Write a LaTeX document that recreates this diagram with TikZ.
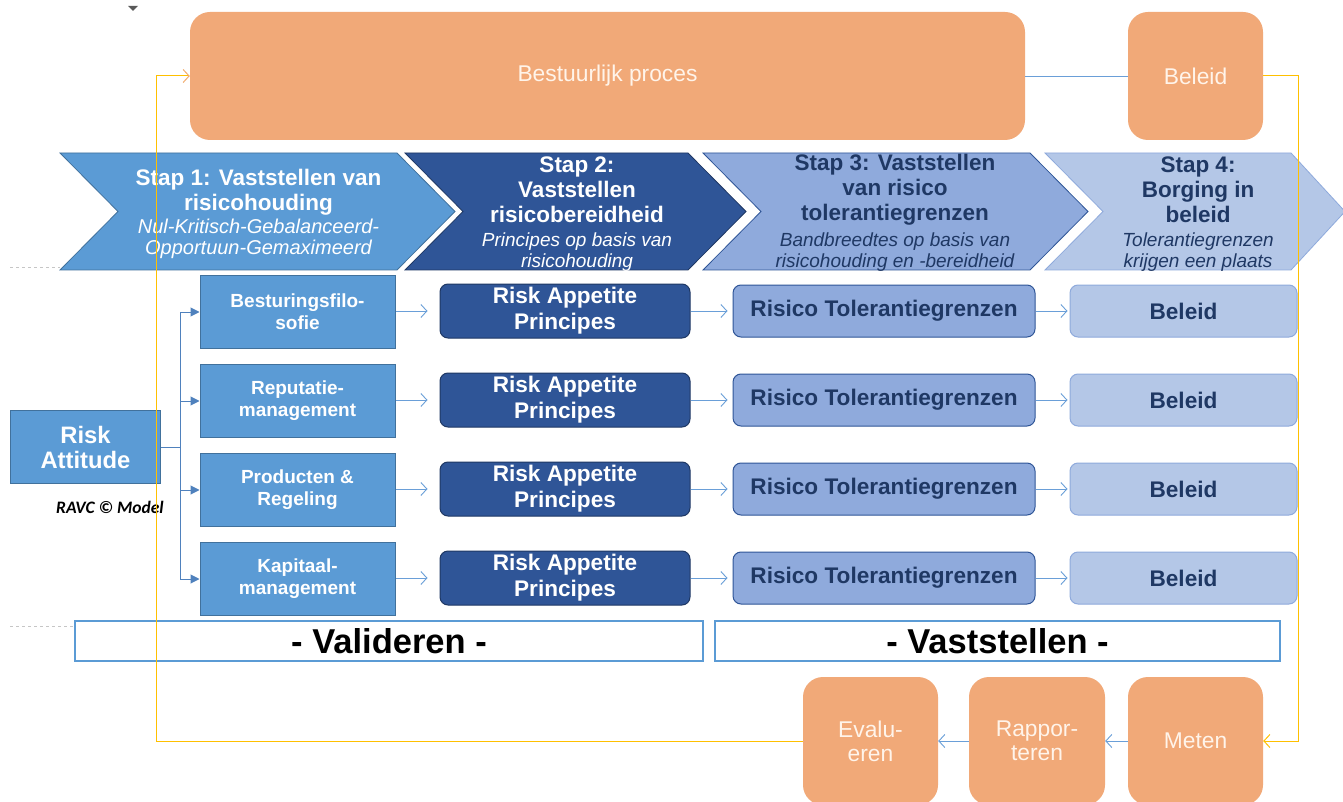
\documentclass[tikz,border=0pt]{standalone}
\usepackage{fontspec}
\setmainfont{Liberation Sans}
\newfontfamily\calib{Carlito}
\usetikzlibrary{arrows.meta,calc}
\definecolor{org}{HTML}{F1A978}
\definecolor{bmid}{HTML}{5B9BD5}
\definecolor{bmidd}{HTML}{41719C}
\definecolor{bdark}{HTML}{2F5597}
\definecolor{bnavy}{HTML}{1F3864}
\definecolor{blite}{HTML}{8FAADC}
\definecolor{bpale}{HTML}{B4C7E7}
\definecolor{yel}{HTML}{FFC000}
\definecolor{arr}{HTML}{6A9FD8}
\definecolor{forkc}{HTML}{4F81BD}
\definecolor{otext}{HTML}{FFF4EA}
\tikzset{
  orangebox/.style={rectangle, rounded corners=20pt, fill=org, text=otext, align=center, inner sep=0pt, font=\fontsize{22.8}{24}\selectfont},
  leftbox/.style={rectangle, fill=bmid, draw=bmidd, line width=1pt, text=white, align=center, inner sep=0pt, minimum width=195pt, minimum height=73pt, font=\bfseries\fontsize{19}{22}\selectfont},
  rapbox/.style={rectangle, rounded corners=8pt, fill=bdark, draw=bnavy, line width=1pt, text=white, align=center, inner sep=0pt, minimum width=250pt, minimum height=54pt, font=\bfseries\fontsize{22.6}{26}\selectfont},
  rtbox/.style={rectangle, rounded corners=8pt, fill=blite, draw=bdark, line width=1pt, text=bnavy, align=center, inner sep=0pt, minimum width=302pt, minimum height=52pt, font=\bfseries\fontsize{22.6}{26}\selectfont},
  belbox/.style={rectangle, rounded corners=8pt, fill=bpale, draw=blite, line width=1pt, text=bnavy, align=center, inner sep=0pt, minimum width=227pt, minimum height=52pt, font=\bfseries\fontsize{22.6}{26}\selectfont},
  phasebox/.style={rectangle, draw=bmid, line width=2pt, fill=white, text=black, inner sep=0pt, minimum height=40pt, font=\bfseries\fontsize{34.5}{36}\selectfont},
  chtitle/.style={align=center, inner sep=0pt, font=\bfseries\fontsize{22.5}{25}\selectfont},
  chsub/.style={align=center, inner sep=0pt, font=\itshape\fontsize{19}{21}\selectfont},
  flow/.style={draw=arr, line width=0.9pt, -{Straight Barb[length=6pt,width=13pt]}},
  fork/.style={draw=forkc, line width=1pt, -{Triangle[length=9pt,width=9pt]}},
  yline/.style={draw=yel, line width=1pt, -{Straight Barb[length=6pt,width=13pt]}},
}
\begin{document}
\begin{tikzpicture}[x=1pt,y=-1pt]
\useasboundingbox (0,0) rectangle (1343,802);
\fill[white] (0,0) rectangle (1343,802);
\path[clip] (0,0) rectangle (1343,802);

% small artefacts
\fill[gray!70!black] (128,6) -- (138,6) -- (133,11) -- cycle;
\draw[gray!45, dashed, line width=0.5pt] (10,267) -- (60,267);
\draw[gray!45, dashed, line width=0.5pt] (10,626) -- (75,626);

% top process
\node[orangebox, minimum width=835pt, minimum height=128pt] (bp) at (607.5,76) {Bestuurlijk proces};
\node[orangebox, minimum width=135pt, minimum height=128pt] (bt) at (1195.5,76) {Beleid};
\draw[draw=arr, line width=0.9pt] (bp.east) -- (bt.west);

% chevrons
\filldraw[fill=bmid, draw=bmidd, line width=0.8pt] (60,153) -- (397,153) -- (455,211.5) -- (397,270) -- (60,270) -- (118,211.5) -- cycle;
\filldraw[fill=bdark, draw=bnavy, line width=0.8pt] (405,153) -- (688,153) -- (746,211.5) -- (688,270) -- (405,270) -- (463,211.5) -- cycle;
\filldraw[fill=blite, draw=bdark, line width=0.8pt] (703,153) -- (1030,153) -- (1088,211.5) -- (1030,270) -- (703,270) -- (761,211.5) -- cycle;
\filldraw[fill=bpale, draw=blite, line width=0.8pt] (1045,153) -- (1291,153) -- (1345,211.5) -- (1291,270) -- (1045,270) -- (1103,211.5) -- cycle;

\node[chtitle, text=white] (c1t) at (258.5,192) {Stap 1: Vaststellen van\\risicohouding};
\node[chsub, text=white, font=\itshape\fontsize{20}{21}\selectfont] (c1s) at (258.5,239) {Nul-Kritisch-Gebalanceerd-\\Opportuun-Gemaximeerd};
\node[chtitle, text=white] (c2t) at (577,190) {Stap 2:\\Vaststellen\\risicobereidheid};
\node[chsub, text=white] (c2s) at (577,252) {Principes op basis van\\risicohouding};
\node[chtitle, text=bnavy] (c3t) at (895,190) {Stap 3: Vaststellen\\van risico\\tolerantiegrenzen};
\node[chsub, text=bnavy] (c3s) at (895,252) {Bandbreedtes op basis van\\risicohouding en -bereidheid};
\node[chtitle, text=bnavy] (c4t) at (1198,190) {Stap 4:\\Borging in\\beleid};
\node[chsub, text=bnavy] (c4s) at (1198,252) {Tolerantiegrenzen\\krijgen een plaats};

% left column
\node[leftbox, minimum width=150pt, minimum height=73pt, font=\bfseries\fontsize{23.8}{25}\selectfont] (ra) at (85.5,447) {Risk\\Attitude};
\node[font=\calib\bfseries\itshape\fontsize{17.5}{18}\selectfont, text=black, inner sep=0pt] (ravc) at (110,507) {RAVC © Model};

\node[leftbox] (b1) at (297.5,312) {Besturingsfilo-\\sofie};
\node[leftbox] (b2) at (297.5,401) {Reputatie-\\management};
\node[leftbox] (b3) at (297.5,490) {Producten \&\\Regeling};
\node[leftbox] (b4) at (297.5,579) {Kapitaal-\\management};

\coordinate (fj) at (180,447);
\draw[draw=forkc, line width=1pt] (ra.east) -- (fj);
\foreach \i in {1,...,4} {\draw[fork] (fj) |- (b\i.west);}

% rows
\foreach \i/\y in {1/311,2/400,3/489,4/578} {
  \node[rapbox] (p\i) at (565,\y) {Risk Appetite\\Principes};
  \node[rtbox] (t\i) at (884,\y) {Risico Tolerantiegrenzen};
  \node[belbox] (l\i) at (1183.5,\y) {Beleid};
  \draw[flow, shorten >=12pt] (b\i.east |- p\i.west) -- (p\i.west);
  \draw[flow, shorten >=5pt] (p\i.east) -- (t\i.west);
  \draw[flow, shorten >=2pt] (t\i.east) -- (l\i.west);
}

% phases
\node[phasebox, minimum width=628pt] (val) at (389,641) {- Valideren -};
\node[phasebox, minimum width=565pt] (vst) at (997.5,641) {- Vaststellen -};

% bottom cycle
\node[orangebox, minimum width=135pt, minimum height=128pt] (ev) at (870.5,741) {Evalu-\\eren};
\node[orangebox, minimum width=136pt, minimum height=128pt] (rp) at (1037,741) {Rappor-\\teren};
\node[orangebox, minimum width=135pt, minimum height=128pt] (mt) at (1195.5,741) {Meten};
\draw[flow] (mt.west) -- (rp.east);
\draw[flow] (rp.west) -- (ev.east);

% yellow feedback lines
\coordinate (yr) at (1298,76);
\coordinate (yl) at (156,76);
\draw[yline] (bt.east) -- (yr) |- (mt.east);
\draw[draw=yel, line width=1pt] (ev.west) -| (yl);
\draw[draw=yel, line width=1pt, -{Straight Barb[length=6pt,width=13pt,color=org!90!yel]}] (yl) -- (bp.west);
\end{tikzpicture}
\end{document}
